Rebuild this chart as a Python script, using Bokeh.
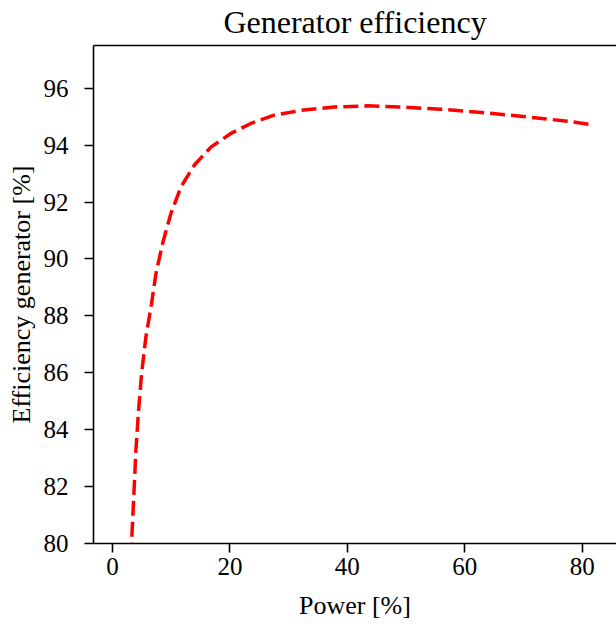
from bokeh.plotting import figure
from bokeh.models import Range1d, LinearAxis, FixedTicker
from bokeh.embed import file_html
from bokeh.resources import INLINE

# Data
power = [3.12, 3.24, 3.58, 3.97, 4.43, 4.94, 5.67, 6.6, 7.38, 8.52, 9.93,
         11.64, 13.9, 16.75, 20.15, 23.56, 27.5, 32.1, 37.75, 43.4, 49.1,
         55.9, 63.3, 70.7, 77.5, 81.8]
efficiency = [79.5, 80.05, 81.51, 83.27, 84.68, 85.97, 87.25, 88.38, 89.48,
              90.54, 91.59, 92.53, 93.29, 93.93, 94.41, 94.76, 95.05, 95.22,
              95.34, 95.38, 95.34, 95.26, 95.14, 94.99, 94.84, 94.71]
x_ticks = [0, 20, 40, 60, 80]
y_ticks = [80, 82, 84, 86, 88, 90, 92, 94, 96]
title_text = "Generator efficiency"

FONT = "Liberation Serif"
X_MIN, X_MAX = -3.25, 85.85
Y_MIN, Y_MAX = 80, 97.5

p = figure(width=616, height=625, output_backend="svg", toolbar_location=None,
           x_range=Range1d(X_MIN, X_MAX), y_range=Range1d(Y_MIN, Y_MAX),
           min_border_left=93, min_border_right=0, min_border_top=45,
           min_border_bottom=82, title=title_text)

p.outline_line_color = None
p.xgrid.visible = False
p.ygrid.visible = False
p.background_fill_color = "white"
p.border_fill_color = "white"

p.title.text_font = FONT
p.title.text_font_size = "32px"
p.title.text_font_style = "normal"
p.title.text_color = "black"
p.title.align = "center"
p.title.vertical_align = "top"
p.title.standoff = 7

for ax in (p.xaxis[0], p.yaxis[0]):
    ax.axis_line_width = 1.6
    ax.axis_line_color = "black"
    ax.major_tick_line_width = 1.6
    ax.major_tick_line_color = "black"
    ax.major_tick_out = 9
    ax.major_tick_in = 0
    ax.minor_tick_out = 0
    ax.minor_tick_in = 0
    ax.major_label_text_font = FONT
    ax.major_label_text_font_size = "25px"
    ax.major_label_text_color = "black"
    ax.axis_label_text_font = FONT
    ax.axis_label_text_font_size = "26px"
    ax.axis_label_text_font_style = "normal"
    ax.axis_label_text_color = "black"

p.xaxis.ticker = FixedTicker(ticks=x_ticks)
p.yaxis.ticker = FixedTicker(ticks=y_ticks)
p.xaxis.axis_label = "Power [%]"
p.yaxis.axis_label = "Efficiency generator [%]"
p.xaxis.major_label_standoff = 5
p.yaxis.major_label_standoff = 16
p.xaxis.axis_label_standoff = 13
p.yaxis.axis_label_standoff = 5

top = LinearAxis(ticker=FixedTicker(ticks=[]), axis_line_width=1.6,
                 axis_line_color="black", major_tick_out=0, major_tick_in=0,
                 minor_tick_out=0, minor_tick_in=0,
                 major_label_text_font_size="0px")
p.add_layout(top, "above")

p.line(power, efficiency, line_color="red", line_width=3.5, line_dash="15 6")

open("out.html", "w").write(file_html(p, INLINE))
